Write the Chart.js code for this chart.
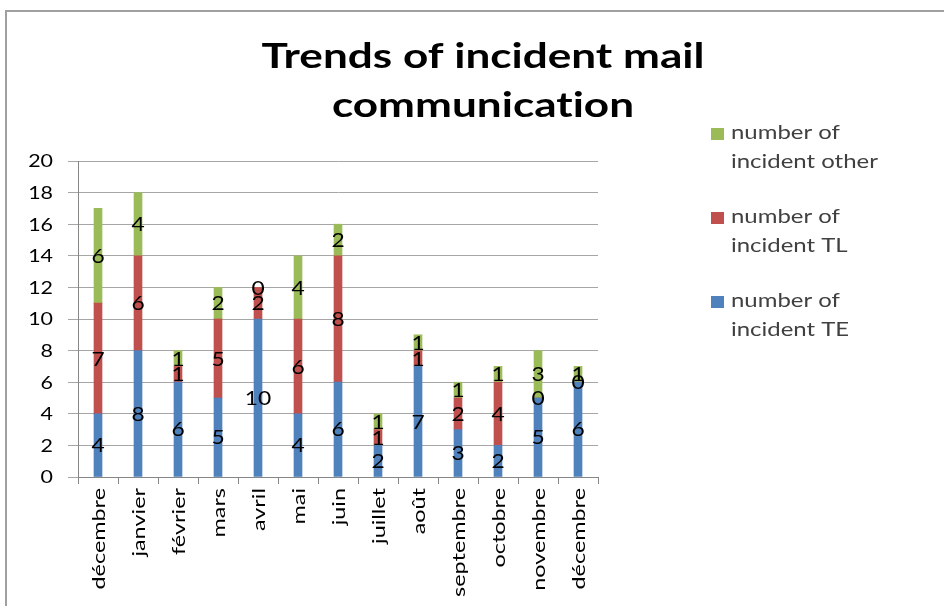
<!DOCTYPE html>
<html>
<head>
<meta charset="utf-8">
<script src="https://cdn.jsdelivr.net/npm/chart.js@4.4.0/dist/chart.umd.min.js"></script>
<style>
  html, body { margin: 0; padding: 0; background: #fff; }
  #wrap { position: relative; width: 944px; height: 606px; overflow: hidden; }
  #frame { position: absolute; left: 5px; top: 10px; width: 960px; height: 620px; border-left: 2px solid #a0a0a0; border-top: 2px solid #a0a0a0; }
  canvas { position: absolute; left: 0; top: 0; }
</style>
</head>
<body>
<div id="wrap">
  <div id="frame"></div>
  <canvas id="chart" width="944" height="606"></canvas>
</div>
<script>
const months = ["décembre", "janvier", "février", "mars", "avril", "mai", "juin", "juillet", "août", "septembre", "octobre", "novembre", "décembre"];
const incidentTE = [4, 8, 6, 5, 10, 4, 6, 2, 7, 3, 2, 5, 6];
const incidentTL = [7, 6, 1, 5, 2, 6, 8, 1, 1, 2, 4, 0, 0];
const incidentOther = [6, 4, 1, 2, 0, 4, 2, 1, 1, 1, 1, 3, 1];
const yTicks = [0, 2, 4, 6, 8, 10, 12, 14, 16, 18, 20];
const titleLines = ["Trends of incident mail", "communication"];

const colors = { te: "#4F81BD", tl: "#C0504D", other: "#9BBB59" };
const FONT = "Lato, 'Open Sans', sans-serif";
const STRETCH = 1.26; // le texte d'origine est plus large que Lato

// légende dans l'ordre inverse (comme Excel)
const legendItems = [
    { label: ["number of", "incident other"], color: colors.other },
    { label: ["number of", "incident TL"], color: colors.tl },
    { label: ["number of", "incident TE"], color: colors.te }
];

function stretchText(ctx, text, x, y, sx, align) {
    ctx.save();
    ctx.translate(x, y);
    ctx.scale(sx, 1);
    ctx.textAlign = align;
    ctx.fillText(text, 0, 0);
    ctx.restore();
}

// textes : titre, légende, graduations, étiquettes de valeurs
const textLayer = {
    id: "textLayer",
    afterDraw(chart) {
        const ctx = chart.ctx;
        const xs = chart.scales.x, ys = chart.scales.y;
        ctx.save();
        if ("textRendering" in ctx) ctx.textRendering = "optimizeSpeed";

        // titre
        ctx.fillStyle = "#000";
        ctx.textBaseline = "alphabetic";
        ctx.font = "bold 35px " + FONT;
        titleLines.forEach((t, i) => stretchText(ctx, t, 483, 68 + i * 49, STRETCH, "center"));

        // légende
        ctx.font = "19px " + FONT;
        legendItems.forEach((it, i) => {
            const base = 139 + i * 84;
            ctx.fillStyle = it.color;
            ctx.fillRect(711, base - 11, 13, 12);
            ctx.fillStyle = "#404040";
            it.label.forEach((l, k) => stretchText(ctx, l, 731, base + k * 29, STRETCH, "left"));
        });

        // graduations Y
        ctx.fillStyle = "#000";
        ctx.font = "17px " + FONT;
        ctx.textBaseline = "middle";
        yTicks.forEach(v => stretchText(ctx, String(v), 53, ys.getPixelForValue(v) + 1, STRETCH, "right"));

        // étiquettes X verticales
        ctx.font = "18px " + FONT;
        months.forEach((m, i) => {
            ctx.save();
            ctx.translate(xs.getPixelForValue(i) + 1, xs.top + 11);
            ctx.rotate(-Math.PI / 2);
            ctx.scale(1.3, 1);
            ctx.textAlign = "right";
            ctx.textBaseline = "middle";
            ctx.fillText(m, 0, 0);
            ctx.restore();
        });

        // valeurs au centre des segments
        ctx.font = "19px " + FONT;
        ctx.fillStyle = "#000";
        chart.data.datasets.forEach((ds, i) => {
            chart.getDatasetMeta(i).data.forEach((bar, j) => {
                const y = (bar.y + bar.base) / 2;
                stretchText(ctx, String(ds.data[j]), bar.x, y + 1, 1.2, "center");
            });
        });
        ctx.restore();
    }
};

const ctx = document.getElementById("chart").getContext("2d");
new Chart(ctx, {
    type: "bar",
    data: {
        labels: months,
        datasets: [
            { label: "number of incident TE", data: incidentTE, backgroundColor: colors.te, barThickness: 8 },
            { label: "number of incident TL", data: incidentTL, backgroundColor: colors.tl, barThickness: 8 },
            { label: "number of incident other", data: incidentOther, backgroundColor: colors.other, barThickness: 8 }
        ]
    },
    options: {
        responsive: false,
        animation: false,
        layout: { padding: { left: 20, right: 346, top: 161, bottom: 0 } },
        plugins: { legend: { display: false }, title: { display: false }, tooltip: { enabled: false } },
        scales: {
            x: {
                stacked: true,
                grid: { offset: true, drawOnChartArea: false, drawTicks: true, tickLength: 7, color: "#868686" },
                border: { color: "#868686", width: 1 },
                ticks: { autoSkip: false, maxRotation: 0, color: "rgba(0,0,0,0)" },
                afterFit(s) { s.height = 606 - 477; }
            },
            y: {
                stacked: true,
                min: 0, max: 20,
                afterBuildTicks(s) { s.ticks = yTicks.map(v => ({ value: v })); },
                grid: { color: "#a6a6a6", lineWidth: 1, tickLength: 10 },
                border: { color: "#868686", width: 1 },
                ticks: { color: "rgba(0,0,0,0)" },
                afterFit(s) { s.width = 78 - 20; }
            }
        }
    },
    plugins: [textLayer]
});
</script>
</body>
</html>
